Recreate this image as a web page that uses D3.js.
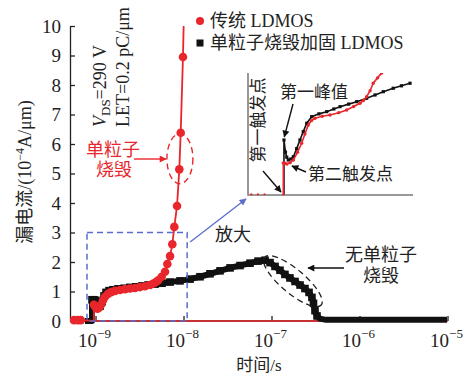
<!DOCTYPE html>
<html>
<head>
<meta charset="utf-8">
<script src="https://cdn.jsdelivr.net/npm/d3@7/dist/d3.min.js"></script>
<style>
  body { margin:0; background:#fff; }
  text { font-family: "Liberation Serif", "Noto Sans CJK SC", serif; fill:#222; }
  .axis path, .axis line { stroke:#222; stroke-width:1.3px; }
  .axis text { font-size:19px; font-family: "Liberation Serif", serif; fill:#222; }
</style>
</head>
<body>
<div id="chart"></div>
<script>
// main chart data: time in s, leakage current in 1e-4 A/um
var redT = [5.7e-10, 6.3e-10, 6.8e-10, 9.6e-10, 9.6e-10, 9.87e-10, 1.013e-9, 1.054e-9, 1.096e-9, 1.155e-9, 1.216e-9,
  1.282e-9, 1.387e-9, 1.5e-9, 1.666e-9, 1.898e-9, 2.163e-9, 2.464e-9, 2.81e-9, 3.2e-9, 3.65e-9, 4.16e-9,
  4.54e-9, 4.87e-9, 5.17e-9, 5.65e-9, 6.16e-9, 6.55e-9, 7.03e-9, 7.46e-9, 7.86e-9, 8.44e-9, 8.96e-9,
  9.29e-9, 9.86e-9, 1.01e-8];
var redV = [0.03, 0.03, 0.03, 0.0, 0.55, 0.5, 0.45, 0.42, 0.45, 0.55, 0.7,
  0.82, 0.92, 0.98, 1.02, 1.05, 1.08, 1.1, 1.12, 1.15, 1.18, 1.22,
  1.27, 1.32, 1.38, 1.5, 1.67, 1.93, 2.2, 2.6, 3.19, 3.9, 5.14,
  6.38, 8.95, 10.4];

var blackT = [7.6e-10, 9.12e-10, 9.12e-10, 9.6e-10, 1.013e-9, 1.04e-9, 1.082e-9, 1.125e-9, 1.186e-9, 1.249e-9,
  1.316e-9, 1.423e-9, 1.58e-9, 1.8e-9, 2.11e-9, 2.46e-9, 2.88e-9, 3.37e-9, 3.95e-9, 4.75e-9, 5.7e-9,
  7.03e-9, 9.12e-9, 1.186e-8, 1.54e-8, 2.0e-8, 2.6e-8, 3.38e-8, 4.39e-8, 5.7e-8, 7.03e-8, 8.44e-8,
  9.62e-8, 1.096e-7, 1.249e-7, 1.42e-7, 1.62e-7, 1.85e-7, 2.11e-7, 2.4e-7, 2.67e-7, 2.88e-7, 3.0e-7,
  3.12e-7, 3.29e-7, 3.56e-7, 4.16e-7, 5.27e-7, 7.8e-7, 1.32e-6, 2.22e-6, 3.75e-6, 6.33e-6, 9.87e-6];
var blackV = [0.0, 0.0, 0.72, 0.72, 0.7, 0.6, 0.5, 0.5, 0.65, 0.85,
  0.97, 1.03, 1.06, 1.09, 1.11, 1.14, 1.16, 1.19, 1.22, 1.25, 1.28,
  1.32, 1.36, 1.42, 1.5, 1.6, 1.7, 1.8, 1.88, 1.96, 2.03, 2.06,
  1.98, 1.85, 1.72, 1.58, 1.46, 1.34, 1.22, 1.1, 0.97, 0.8, 0.6,
  0.35, 0.17, 0.08, 0.04, 0.04, 0.04, 0.04, 0.04, 0.04, 0.04, 0.04];

var yTicks = [0, 1, 2, 3, 4, 5, 6, 7, 8, 9, 10];
var xTicks = [1e-9, 1e-8, 1e-7, 1e-6, 1e-5];
var xTickExp = ["\u22129", "\u22128", "\u22127", "\u22126", "\u22125"];

// zoomed inset (relative units 0..100)
var insetRedU = [2, 6, 10, 21.4, 21.4, 22.4, 23.6, 25.5, 27.5, 30, 32.5, 34.5, 36.5, 38.5, 40.6, 45, 49.7,
  55, 59.8, 64, 67.9, 70, 71.9, 74, 75.9, 78.5, 81, 82.5];
var insetRedW = [0.5, 0.5, 0.5, 0.5, 26.2, 26, 25.4, 26.5, 28.7, 35, 42.4, 50, 57.4, 61, 62.9, 64.5, 65.6,
  67.5, 69.7, 72.5, 75.2, 77.5, 80.6, 85.5, 91.6, 96, 100, 104];
var insetBlackU = [21.8, 21.8, 22.7, 23.5, 24.4, 26, 27.5, 29.5, 31.5, 33.5, 35.6, 38.6, 43, 47.7,
  52, 55.8, 61, 65.9, 71.9, 77, 82, 88, 93, 98.2];
var insetBlackW = [0.5, 45.1, 35.2, 31, 28.7, 29.5, 31.4, 38, 45.1, 52, 58.8, 64.2, 66.5, 68.3,
  70.5, 72.4, 74.5, 76.5, 79.3, 82, 84.7, 87.5, 89.5, 91.6];

// zoom box on the main chart
var boxT = [8.0e-10, 1.1e-8];
var boxV = [0, 3];

var RED = "#e8262b", BLK = "#111", BLUE = "#5a6dcc";

var W = 468, H = 376;
var svg = d3.select("#chart").append("svg").attr("width", W).attr("height", H);

var defs = svg.append("defs");
function arrowMarker(id, color){
  defs.append("marker").attr("id", id)
    .attr("viewBox", "0 0 10 10").attr("refX", 9).attr("refY", 5)
    .attr("markerWidth", 9).attr("markerHeight", 7).attr("markerUnits", "userSpaceOnUse")
    .attr("orient", "auto")
    .append("path").attr("d", "M0,0L10,5L0,10z").attr("fill", color);
}
arrowMarker("arRed", RED);
arrowMarker("arBlk", BLK);
arrowMarker("arBlue", BLUE);

var x = d3.scaleLog().domain([Math.pow(10, -9.29), 1e-5]).range([70, 447.5]);
var y = d3.scaleLinear().domain([0, 10]).range([321, 26]);

defs.append("clipPath").attr("id", "plotClip").append("rect")
  .attr("x", 70).attr("y", 26).attr("width", 378).attr("height", 300);

// axes
var yAxis = d3.axisLeft(y).tickValues(yTicks).tickSizeInner(-5).tickSizeOuter(0).tickPadding(9);
svg.append("g").attr("class", "axis").attr("transform", "translate(70,0)").call(yAxis);

var xAxis = d3.axisBottom(x).tickValues(xTicks).tickSizeInner(-5).tickSizeOuter(0).tickFormat("");
var gx = svg.append("g").attr("class", "axis").attr("transform", "translate(0,321)").call(xAxis);
gx.select(".domain").attr("d", "M70,0H447.5");

var xl = svg.append("g");
xTicks.forEach(function(t, i){
  var tx = xl.append("text").attr("x", x(t) - 1).attr("y", 347).attr("text-anchor", "middle")
    .style("font-size", "19px");
  tx.append("tspan").text("10");
  tx.append("tspan").attr("dy", -9).style("font-size", "13px").text(xTickExp[i]);
});

// axis titles
svg.append("text").attr("x", 259).attr("y", 371).attr("text-anchor", "middle")
  .style("font-size", "17px").text("时间/s");

var yt = svg.append("text").attr("transform", "translate(31,172) rotate(-90)")
  .attr("text-anchor", "middle").style("font-size", "18px");
yt.append("tspan").text("漏电流/(10");
yt.append("tspan").attr("dy", -7).style("font-size", "12px").text("\u22124");
yt.append("tspan").attr("dy", 7).text("A/μm)");

// red baseline along the axis
svg.append("line").attr("x1", 70).attr("x2", 447.5).attr("y1", y(0)).attr("y2", y(0))
  .attr("stroke", RED).attr("stroke-width", 1.6);

var plot = svg.append("g").attr("clip-path", "url(#plotClip)");

// black series: hardened LDMOS
var blackData = blackT.map(function(t, i){ return {t:t, v:blackV[i]}; });
var line = d3.line().x(function(d){ return x(d.t); }).y(function(d){ return y(d.v); });
plot.append("path").datum(blackData).attr("d", line)
  .attr("fill", "none").attr("stroke", BLK).attr("stroke-width", 6).attr("stroke-linejoin", "round");
plot.selectAll(".sq").data(blackData.filter(function(d){ return d.v > 0.1; }))
  .enter().append("rect").attr("class", "sq")
  .attr("x", function(d){ return x(d.t) - 3.8; }).attr("y", function(d){ return y(d.v) - 3.8; })
  .attr("width", 7.6).attr("height", 7.6).attr("fill", BLK);

// red series: conventional LDMOS
var redData = redT.map(function(t, i){ return {t:t, v:redV[i]}; });
plot.append("path").datum(redData).attr("d", line)
  .attr("fill", "none").attr("stroke", RED).attr("stroke-width", 1.8);
plot.selectAll(".dot").data(redData.filter(function(d){ return d.v > 0.01 && d.v < 10; }))
  .enter().append("circle").attr("class", "dot")
  .attr("cx", function(d){ return x(d.t); }).attr("cy", function(d){ return y(d.v); })
  .attr("r", 4.3).attr("fill", RED);

// zoom box and arrow
svg.append("rect").attr("x", x(boxT[0])).attr("y", y(boxV[1]))
  .attr("width", x(boxT[1]) - x(boxT[0])).attr("height", y(boxV[0]) - y(boxV[1]))
  .attr("fill", "none").attr("stroke", BLUE).attr("stroke-width", 1.5).attr("stroke-dasharray", "6,4");
svg.append("line").attr("x1", x(boxT[1]) + 3).attr("y1", y(2.68)).attr("x2", 246).attr("y2", 199)
  .attr("stroke", BLUE).attr("stroke-width", 1.3).attr("marker-end", "url(#arBlue)");
svg.append("text").attr("x", 215).attr("y", 241).style("font-size", "18px").text("放大");

// inset
var ix = d3.scaleLinear().domain([0, 100]).range([248, 413]);
var iy = d3.scaleLinear().domain([0, 100]).range([195, 73]);
defs.append("clipPath").attr("id", "insetClip").append("rect")
  .attr("x", 246).attr("y", 73).attr("width", 170).attr("height", 125);
var inset = svg.append("g");
inset.append("path").attr("d", "M" + ix(0) + "," + iy(100) + "V" + iy(0) + "H" + ix(100))
  .attr("fill", "none").attr("stroke", "#777").attr("stroke-width", 1.5);
var iline = d3.line().x(function(d){ return ix(d[0]); }).y(function(d){ return iy(d[1]); });
var ig = inset.append("g").attr("clip-path", "url(#insetClip)");
var iBlack = insetBlackU.map(function(u, i){ return [u, insetBlackW[i]]; });
var iRed = insetRedU.map(function(u, i){ return [u, insetRedW[i]]; });
ig.append("path").datum(iBlack).attr("d", iline).attr("fill", "none").attr("stroke", BLK).attr("stroke-width", 1.6);
ig.selectAll(".isq").data(iBlack.slice(1)).enter().append("rect").attr("class", "isq")
  .attr("x", function(d){ return ix(d[0]) - 1.6; }).attr("y", function(d){ return iy(d[1]) - 1.6; })
  .attr("width", 3.2).attr("height", 3.2).attr("fill", BLK);
ig.append("path").datum(iRed.slice(3)).attr("d", iline).attr("fill", "none").attr("stroke", RED).attr("stroke-width", 1.6);
ig.selectAll(".idot").data(iRed).enter().append("circle").attr("class", "idot")
  .attr("cx", function(d){ return ix(d[0]); }).attr("cy", function(d){ return iy(d[1]); })
  .attr("r", function(d){ return d[1] < 1 ? 1.1 : 1.7; }).attr("fill", RED);

inset.append("text").attr("x", 280).attr("y", 98).style("font-size", "17px").text("第一峰值");
inset.append("text").attr("x", 308).attr("y", 180).style("font-size", "17px").text("第二触发点");
inset.append("text").attr("transform", "translate(264,120) rotate(-90)").attr("text-anchor", "middle")
  .style("font-size", "17px").text("第一触发点");
function arrow(g, x1, y1, x2, y2, id, color, w){
  g.append("line").attr("x1", x1).attr("y1", y1).attr("x2", x2).attr("y2", y2)
    .attr("stroke", color).attr("stroke-width", w || 1.4).attr("marker-end", "url(#" + id + ")");
}
arrow(inset, 293, 104, ix(22), iy(46) - 2, "arBlk", BLK);
arrow(inset, 306, 172, 292, 166, "arBlk", BLK);
arrow(inset, 263, 171, 281, 192, "arBlk", BLK);

// annotations
var vds = svg.append("text").attr("transform", "translate(106,127) rotate(-90)").style("font-size", "18px");
vds.append("tspan").style("font-style", "italic").text("V");
vds.append("tspan").attr("dy", 4).style("font-size", "13px").text("DS");
vds.append("tspan").attr("dy", -4).text("=290 V");
svg.append("text").attr("transform", "translate(129,127) rotate(-90)").style("font-size", "18px")
  .text("LET=0.2 pC/μm");

svg.append("text").attr("x", 113).attr("y", 156).attr("text-anchor", "middle")
  .style("font-size", "18px").style("fill", RED).text("单粒子");
svg.append("text").attr("x", 114).attr("y", 176).attr("text-anchor", "middle")
  .style("font-size", "18px").style("fill", RED).text("烧毁");
arrow(svg, 134, 159, 166, 159, "arRed", RED, 1.4);
svg.append("ellipse").attr("cx", x(9.1e-9)).attr("cy", y(5.5)).attr("rx", 13).attr("ry", 25)
  .attr("fill", "none").attr("stroke", RED).attr("stroke-width", 1.4).attr("stroke-dasharray", "6,4");

svg.append("text").attr("x", 381).attr("y", 261).attr("text-anchor", "middle")
  .style("font-size", "18px").text("无单粒子");
svg.append("text").attr("x", 381).attr("y", 282).attr("text-anchor", "middle")
  .style("font-size", "18px").text("烧毁");
arrow(svg, 344, 268, 308, 268, "arBlk", BLK, 1.3);
svg.append("ellipse").attr("transform", "translate(" + x(1.75e-7) + "," + y(1.35) + ") rotate(40)")
  .attr("rx", 37).attr("ry", 12)
  .attr("fill", "none").attr("stroke", "#222").attr("stroke-width", 1.3).attr("stroke-dasharray", "6,4");

// legend
var leg = svg.append("g");
leg.append("circle").attr("cx", 200).attr("cy", 21).attr("r", 4).attr("fill", RED);
leg.append("text").attr("x", 210).attr("y", 27).style("font-size", "18px").text("传统 LDMOS");
leg.append("rect").attr("x", 196.5).attr("y", 39.5).attr("width", 7).attr("height", 7).attr("fill", BLK);
leg.append("text").attr("x", 210).attr("y", 49).style("font-size", "18px").text("单粒子烧毁加固 LDMOS");
</script>
</body>
</html>
